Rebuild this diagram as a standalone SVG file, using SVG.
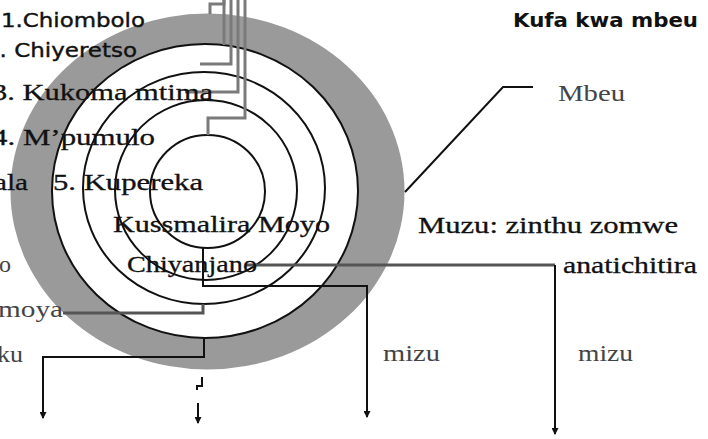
<svg xmlns="http://www.w3.org/2000/svg" width="708" height="439" viewBox="0 0 708 439">
  <style>
    .ring { fill: none; stroke: #111; stroke-width: 2; }
    .sans { font-family: "DejaVu Sans", "Liberation Sans", sans-serif; font-size: 20px; fill: #111; stroke: #111; stroke-width: 0.4; }
    .head { font-family: "DejaVu Sans", "Liberation Sans", sans-serif; font-size: 20px; font-weight: bold; fill: #111; }
    .serif { font-family: "Liberation Serif", "DejaVu Serif", serif; font-size: 24px; fill: #111; stroke: #111; stroke-width: 0.3; }
    .soft { fill: #444; stroke: none; }
    .feed { fill: none; stroke: #7a7a7a; stroke-width: 3; }
    .wire { fill: none; stroke: #111; stroke-width: 2; }
    .wire-grey { fill: none; stroke: #555; stroke-width: 3; }
  </style>
  <defs>
    <marker id="tip" markerUnits="userSpaceOnUse" markerWidth="7" markerHeight="7" refX="6" refY="3.5" orient="auto">
      <path d="M0,0 L7,3.5 L0,7 z" fill="#111"/>
    </marker>
  </defs>

  <rect width="708" height="439" fill="#fff"/>

  <!-- seed layers, outside in -->
  <g id="layer-husk">
    <ellipse cx="207.5" cy="191.5" rx="197" ry="178" fill="#9a9a9a"/>
    <ellipse cx="205" cy="191" rx="153" ry="147" fill="#fff"/>
  </g>
  <g id="layer-1">
    <ellipse class="ring" cx="205" cy="191" rx="153" ry="147"/>
  </g>
  <g id="layer-2">
    <ellipse class="ring" cx="204" cy="188" rx="121" ry="116"/>
  </g>
  <g id="layer-3">
    <ellipse class="ring" cx="206" cy="190" rx="91" ry="90"/>
  </g>
  <g id="layer-core">
    <ellipse class="ring" cx="207.5" cy="191.5" rx="57.5" ry="56.5"/>
  </g>

  <!-- connectors -->
  <g id="connectors">
    <path class="feed" d="M210,14 V4 H224 V0"/>
    <path class="feed" d="M224,0 V45"/>
    <path class="feed" d="M231,0 V64 H200"/>
    <path class="feed" d="M238,0 V92 H185"/>
    <path class="feed" d="M245,0 V118 H208 V135"/>
    <path class="wire" d="M405,192 L503,87 H533"/>
    <path class="wire-grey" d="M245,265 H555"/>
    <path class="wire" d="M555,265 V434" marker-end="url(#tip)"/>
    <path class="wire" d="M203,248 V286 H367 V417" marker-end="url(#tip)"/>
    <path class="wire-grey" d="M63,313 H203 V304"/>
    <path class="wire" d="M204,338 V357 H43 V418" marker-end="url(#tip)"/>
    <path class="wire" d="M202,377 V386 H197 V390"/>
    <path class="wire" d="M198,403 V423" marker-end="url(#tip)"/>
  </g>

  <!-- labels -->
  <g id="label-title">
    <text class="head" x="513" y="27" textLength="185" lengthAdjust="spacingAndGlyphs">Kufa kwa mbeu</text>
  </g>
  <g id="label-1">
    <text class="sans" x="1" y="27" textLength="144" lengthAdjust="spacingAndGlyphs">1.Chiombolo</text>
  </g>
  <g id="label-2">
    <text class="sans" x="-15" y="57" textLength="152" lengthAdjust="spacingAndGlyphs">2. Chiyeretso</text>
  </g>
  <g id="label-3">
    <text class="serif" x="-8" y="100" textLength="221" lengthAdjust="spacingAndGlyphs">3. Kukoma mtima</text>
  </g>
  <g id="label-4">
    <text class="serif" x="-8" y="145" textLength="163" lengthAdjust="spacingAndGlyphs">4. M’pumulo</text>
  </g>
  <g id="label-5">
    <text class="serif" x="-6" y="190" textLength="34" lengthAdjust="spacingAndGlyphs">ala</text>
    <text class="serif" x="53" y="190" textLength="150" lengthAdjust="spacingAndGlyphs">5. Kupereka</text>
  </g>
  <g id="label-core">
    <text class="serif" x="113" y="232" textLength="217" lengthAdjust="spacingAndGlyphs">Kussmalira Moyo</text>
    <text class="serif" x="127" y="272" textLength="130" lengthAdjust="spacingAndGlyphs">Chiyanjano</text>
  </g>
  <g id="label-left">
    <text class="serif soft" x="-1" y="272">o</text>
    <text class="serif soft" x="-2" y="317" textLength="65" lengthAdjust="spacingAndGlyphs">moya</text>
    <text class="serif soft" x="-3" y="362" textLength="26" lengthAdjust="spacingAndGlyphs">ku</text>
  </g>
  <g id="label-seed">
    <text class="serif soft" x="558" y="101" textLength="67" lengthAdjust="spacingAndGlyphs">Mbeu</text>
  </g>
  <g id="label-root">
    <text class="serif" x="418" y="233" textLength="260" lengthAdjust="spacingAndGlyphs">Muzu: zinthu zomwe</text>
    <text class="serif" x="563" y="273" textLength="134" lengthAdjust="spacingAndGlyphs">anatichitira</text>
  </g>
  <g id="label-water">
    <text class="serif soft" x="383" y="361" textLength="57" lengthAdjust="spacingAndGlyphs">mizu</text>
    <text class="serif soft" x="578" y="361" textLength="55" lengthAdjust="spacingAndGlyphs">mizu</text>
  </g>
</svg>
